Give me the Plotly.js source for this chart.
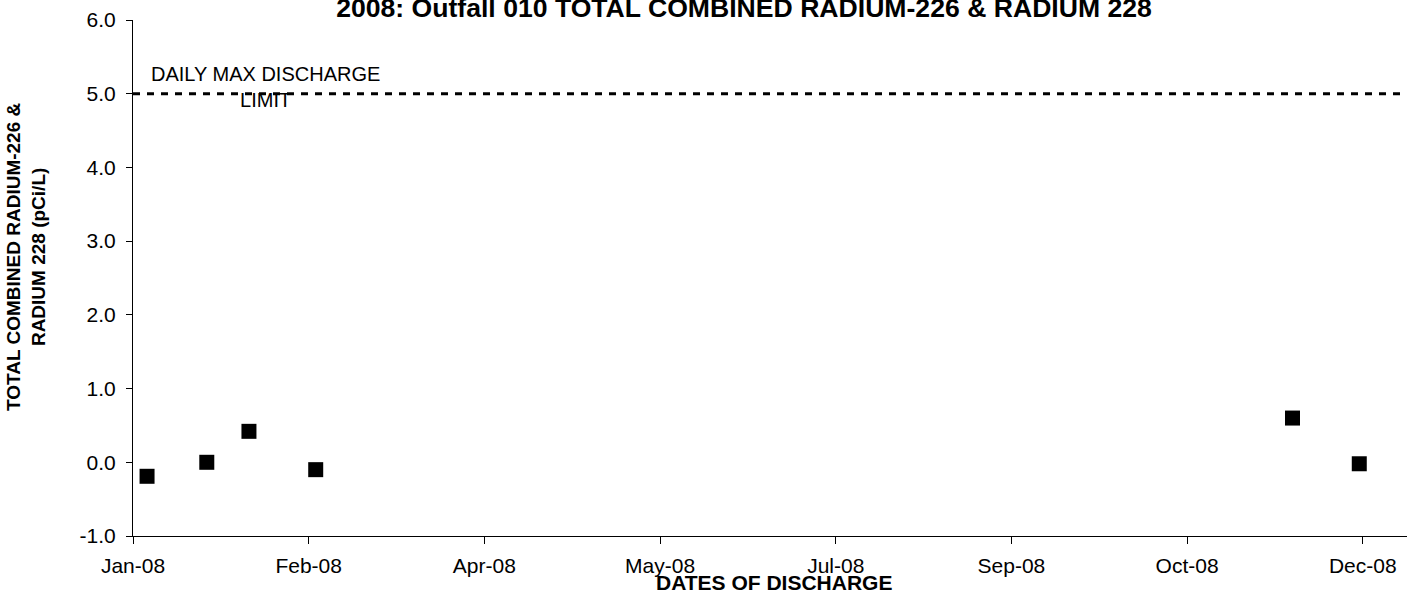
<!DOCTYPE html>
<html>
<head>
<meta charset="utf-8">
<script src="https://cdn.plot.ly/plotly-3.0.1.min.js"></script>
<style>html,body{margin:0;padding:0;background:#fff;}#chart{width:1407px;height:594px;}</style>
</head>
<body>
<div id="chart"></div>
<script>
var sampleDates = ['2008-01-05', '2008-01-22', '2008-02-03', '2008-02-22', '2008-11-26', '2008-12-15'];
var radiumValues = [-0.19, 0.0, 0.42, -0.10, 0.60, -0.02];
var limitDates = ['2008-01-01', '2008-12-28 14:00'];
var limitValues = [5.0, 5.0];
var axisStart = '2008-01-01';
var axisEnd = '2008-12-28 14:00';
var yTickVals = [-1, 0, 1, 2, 3, 4, 5, 6];
var yTickText = ['-1.0', '0.0', '1.0', '2.0', '3.0', '4.0', '5.0', '6.0'];

var FONT = 'Liberation Sans, Arial, sans-serif';

var traces = [
  {
    x: limitDates, y: limitValues, type: 'scatter', mode: 'lines',
    line: {color: '#000', width: 3, dash: '7px,7px'},
    hoverinfo: 'skip', showlegend: false
  },
  {
    x: sampleDates, y: radiumValues, type: 'scatter', mode: 'markers',
    marker: {symbol: 'square', size: 15, color: '#000'},
    showlegend: false, cliponaxis: false
  }
];

var layout = {
  width: 1407, height: 594,
  margin: {l: 133, r: 0, t: 20, b: 58, pad: 0},
  paper_bgcolor: '#fff', plot_bgcolor: '#fff',
  font: {family: FONT, color: '#000', size: 21},
  showlegend: false,
  title: {
    text: '<b>2008: Outfall 010 TOTAL COMBINED RADIUM-226 & RADIUM 228</b>',
    font: {family: FONT, size: 26.6, color: '#000'},
    x: 744 / 1407, xanchor: 'center',
    y: 1 - 8 / 594, yanchor: 'middle', yref: 'container'
  },
  xaxis: {
    type: 'date',
    range: [axisStart, axisEnd],
    tick0: axisStart, dtick: 50 * 86400000,
    tickformat: '%b-%y',
    showgrid: false, zeroline: false,
    showline: true, linecolor: '#000', linewidth: 1,
    ticks: 'outside', ticklen: 7, tickcolor: '#000', tickwidth: 1,
    tickfont: {family: FONT, size: 21, color: '#000'},
    ticklabelstandoff: 4
  },
  yaxis: {
    range: [-1, 6], tickmode: 'array', tickvals: yTickVals, ticktext: yTickText,
    showgrid: false, zeroline: false,
    showline: true, linecolor: '#000', linewidth: 1,
    ticks: 'outside', ticklen: 6, tickcolor: '#000', tickwidth: 1,
    tickfont: {family: FONT, size: 21, color: '#000'},
    ticklabelstandoff: 6
  },
  annotations: [
    {
      text: 'DAILY MAX DISCHARGE<br>LIMIT',
      xref: 'paper', yref: 'paper',
      x: (265 - 133) / 1274, y: (536 - 87) / 516,
      xanchor: 'center', yanchor: 'middle', showarrow: false,
      font: {family: FONT, size: 20, color: '#000'}
    },
    {
      text: '<b>DATES OF DISCHARGE</b>',
      xref: 'paper', yref: 'paper',
      x: (774 - 133) / 1274, y: (536 - 582) / 516,
      xanchor: 'center', yanchor: 'middle', showarrow: false,
      font: {family: FONT, size: 21, color: '#000'}
    },
    {
      text: '<b>TOTAL COMBINED RADIUM-226 &<br>RADIUM 228 (pCi/L)</b>',
      xref: 'paper', yref: 'paper',
      x: (26 - 133) / 1274, y: (536 - 257) / 516,
      xanchor: 'center', yanchor: 'middle', showarrow: false, textangle: -90,
      font: {family: FONT, size: 19, color: '#000'}
    }
  ]
};

Plotly.newPlot('chart', traces, layout, {displayModeBar: false, staticPlot: true});
</script>
</body>
</html>
